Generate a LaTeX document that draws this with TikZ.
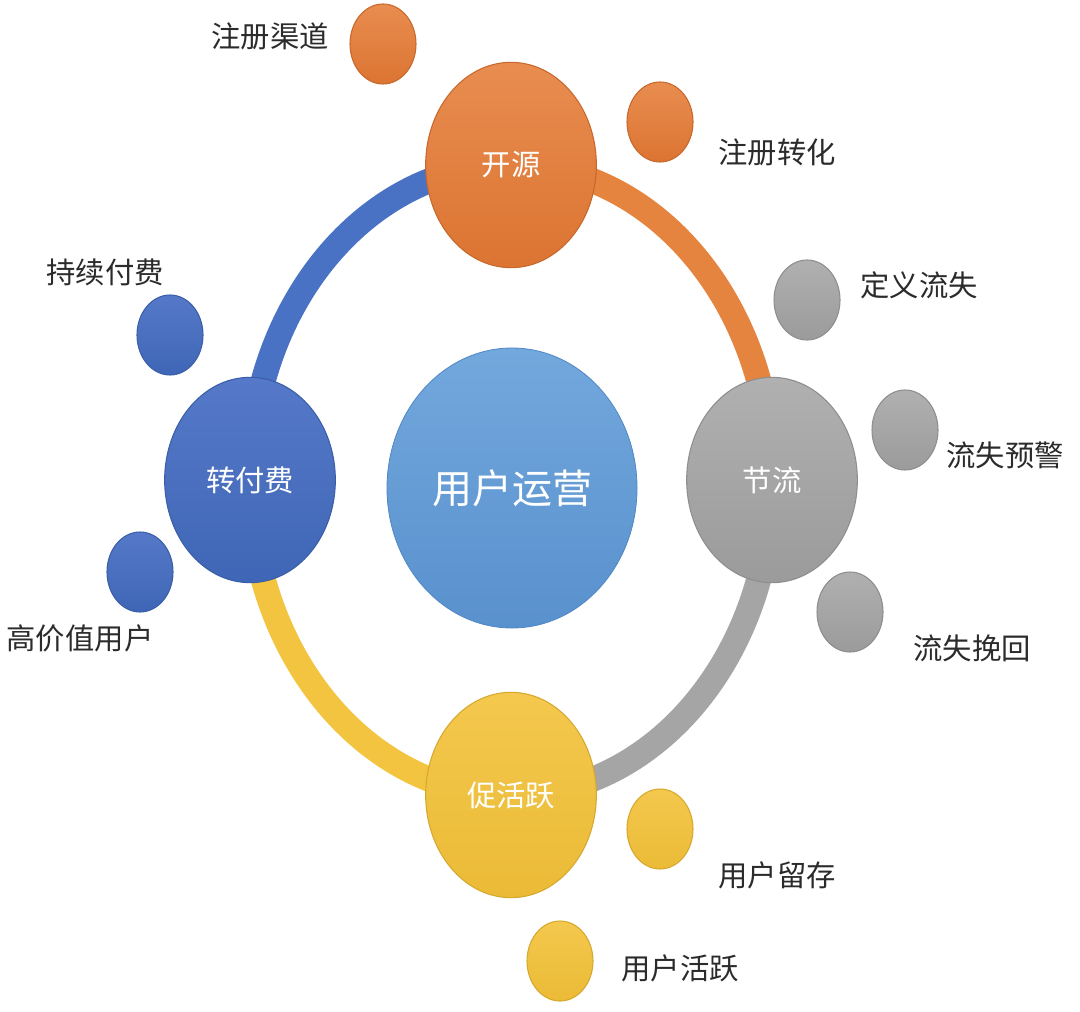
\documentclass[tikz,border=0pt]{standalone}
\usepackage{fontspec}
\setmainfont{Noto Sans CJK SC}
\usetikzlibrary{shapes.geometric,backgrounds}
\definecolor{orT}{HTML}{E88D50}
\definecolor{orB}{HTML}{DC7432}
\definecolor{orD}{HTML}{C8682C}
\definecolor{orR}{HTML}{E5843F}
\definecolor{blT}{HTML}{5579C8}
\definecolor{blB}{HTML}{3F66B6}
\definecolor{blD}{HTML}{3A5FA8}
\definecolor{blR}{HTML}{4A72C4}
\definecolor{grT}{HTML}{B0B0B0}
\definecolor{grB}{HTML}{9B9B9B}
\definecolor{grD}{HTML}{8E8E8E}
\definecolor{grR}{HTML}{A5A5A5}
\definecolor{yeT}{HTML}{F4C84E}
\definecolor{yeB}{HTML}{EBBB36}
\definecolor{yeD}{HTML}{D6A92E}
\definecolor{yeR}{HTML}{F2C440}
\definecolor{ceT}{HTML}{72A8DC}
\definecolor{ceB}{HTML}{5991CE}
\definecolor{ceD}{HTML}{5088C4}
\definecolor{labc}{HTML}{2B2B2B}
\begin{document}
\begin{tikzpicture}[x=0.75pt,y=-0.75pt,
  mainnode/.style={ellipse, inner sep=0pt, minimum width=128pt, minimum height=154pt, text=white, line width=0.8pt, font=\fontsize{22}{26}\selectfont},
  centernode/.style={ellipse, inner sep=0pt, minimum width=187.5pt, minimum height=210pt, text=white, line width=0.6pt, top color=ceT, bottom color=ceB, draw=ceD, font=\fontsize{30}{34}\selectfont},
  smallnode/.style={ellipse, inner sep=0pt, minimum width=49.5pt, minimum height=60pt, line width=0.8pt},
  lab/.style={text=labc, inner sep=0pt, font=\fontsize{22}{26}\selectfont},
  fillor/.style={top color=orT, bottom color=orB, draw=orD},
  fillbl/.style={top color=blT, bottom color=blB, draw=blD},
  fillgr/.style={top color=grT, bottom color=grB, draw=grD},
  fillye/.style={top color=yeT, bottom color=yeB, draw=yeD},
  ringseg/.style={line width=18.75pt}
]
\useasboundingbox (0,0) rectangle (1080,1012);

% main nodes
\node[mainnode, fillor] (ky) at (511,165) {开源};
\node[mainnode, fillgr] (jl) at (772,480) {节流};
\node[mainnode, fillye] (cu) at (511,795) {促活跃};
\node[mainnode, fillbl] (zf) at (250,480) {转付费};
\node[centernode] (ce) at (512,488) {用户运营};

% ring
\begin{scope}[on background layer]
\fill[white] (0,0) rectangle (1080,1012);
\draw[ringseg, draw=orR] (ky.center) arc[start angle=-90, end angle=0, x radius=261, y radius=315];
\draw[ringseg, draw=grR] (jl.center) arc[start angle=0, end angle=90, x radius=261, y radius=315];
\draw[ringseg, draw=yeR] (cu.center) arc[start angle=90, end angle=180, x radius=261, y radius=315];
\draw[ringseg, draw=blR] (zf.center) arc[start angle=180, end angle=270, x radius=261, y radius=315];
\end{scope}

% small nodes
\node[smallnode, fillor] (s1) at (383,44) {};
\node[smallnode, fillor] (s2) at (660,122) {};
\node[smallnode, fillgr] (s3) at (807,300) {};
\node[smallnode, fillgr] (s4) at (905,430) {};
\node[smallnode, fillgr] (s5) at (850,612) {};
\node[smallnode, fillye] (s6) at (660,829) {};
\node[smallnode, fillye] (s7) at (560,961) {};
\node[smallnode, fillbl] (s8) at (170,335) {};
\node[smallnode, fillbl] (s9) at (140,572) {};

% labels
\node[lab] (l1) at (270,36) {注册渠道};
\node[lab] (l2) at (777,152) {注册转化};
\node[lab] (l3) at (919,285) {定义流失};
\node[lab] (l4) at (1005,455) {流失预警};
\node[lab] (l5) at (972,648) {流失挽回};
\node[lab] (l6) at (777,875) {用户留存};
\node[lab] (l7) at (680,968) {用户活跃};
\node[lab] (l8) at (105,272) {持续付费};
\node[lab] (l9) at (80,638) {高价值用户};
\end{tikzpicture}
\end{document}
